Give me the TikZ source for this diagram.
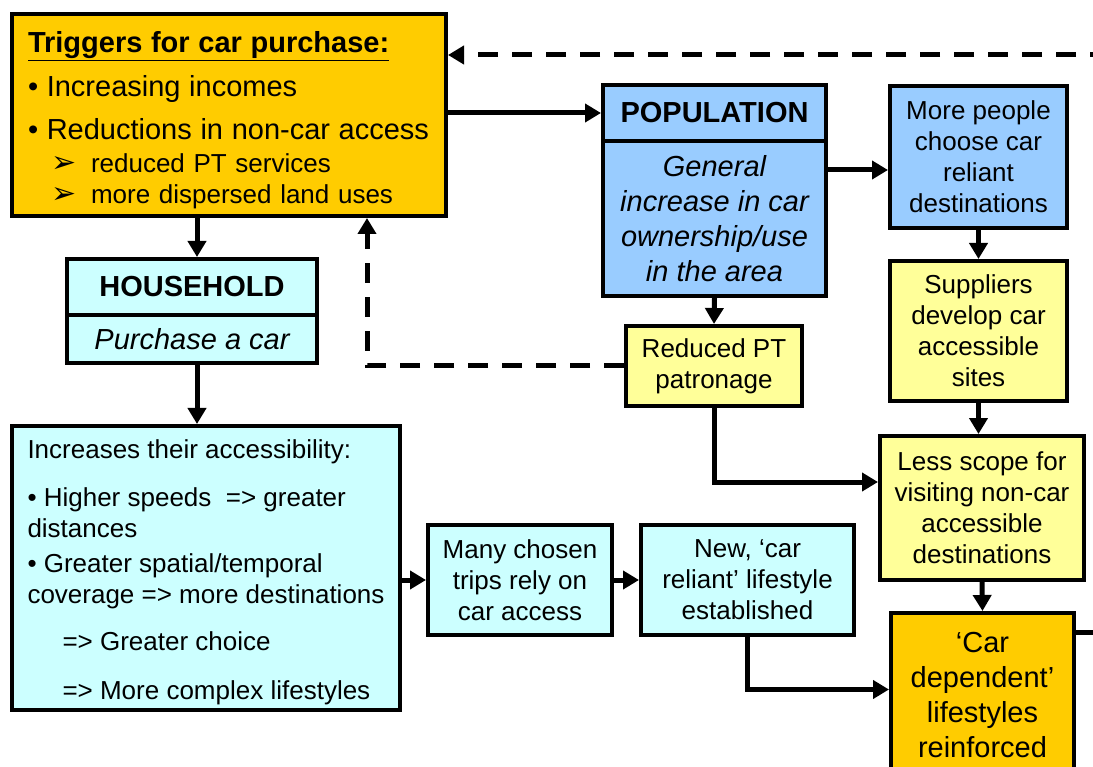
\documentclass[tikz,border=0pt]{standalone}
\usepackage{fontspec}
\setmainfont{Liberation Sans}
\newfontfamily\arrowfont{DejaVu Sans}
\usetikzlibrary{arrows.meta}
\definecolor{trigorange}{HTML}{FFCC00}
\definecolor{hhcyan}{HTML}{CCFFFF}
\definecolor{popblue}{HTML}{99CCFF}
\definecolor{effyellow}{HTML}{FFFF99}

\begin{document}
\begin{tikzpicture}[x=1pt, y=-1pt, >={Triangle[length=16pt,width=18pt]},
    box/.style={draw, line width=4pt, align=center, inner sep=0pt, font=\fontsize{26}{31}\selectfont},
    bigbf/.style={font=\fontsize{29}{35}\selectfont\bfseries},
    bigit/.style={font=\fontsize{29}{35}\selectfont\itshape},
    big/.style={font=\fontsize{29}{35}\selectfont},
    link/.style={->, line width=5pt},
    feedback/.style={->, line width=5pt, dash pattern=on 20pt off 14pt}]

    \useasboundingbox (0,0) rectangle (1093,767);

    \node[box, fill=trigorange, minimum width=434pt, minimum height=202pt, text width=402pt, align=left] at (229,115) (trig) {\rule{0pt}{31pt}{\bfseries\fontsize{29}{35}\selectfont\underline{Triggers for car purchase:}}\\[13pt]
        {\fontsize{29}{35}\selectfont • Increasing incomes}\\[12pt]
        {\fontsize{29}{35}\selectfont • Reductions in non-car access}\\[2pt]
        \hspace*{23pt}\makebox[40pt][l]{\arrowfont\fontsize{30}{30}\selectfont ➢}reduced PT services\\
        \hspace*{23pt}\makebox[40pt][l]{\arrowfont\fontsize{30}{30}\selectfont ➢}more dispersed land uses};

    \node[box, bigbf, fill=hhcyan, minimum width=250pt, minimum height=56pt] at (192,287) (hhhead) {HOUSEHOLD};
    \node[box, bigit, fill=hhcyan, minimum width=250pt, minimum height=48pt] at (192,339) (hhbody) {Purchase a car};

    \node[box, fill=hhcyan, minimum width=388pt, minimum height=284pt, align=left] at (206,568) (acc) {\rule{0pt}{27pt}Increases their accessibility:\\[17pt]
        • Higher speeds\ \ => greater\\
        distances\\[4pt]
        • Greater spatial/temporal\\
        coverage => more destinations\\[16pt]
        \hspace*{35pt}=> Greater choice\\[18pt]
        \hspace*{35pt}=> More complex lifestyles};

    \node[box, fill=hhcyan, minimum width=184pt, minimum height=110pt] at (520,580) (many) {Many chosen\\trips rely on\\car access};
    \node[box, fill=hhcyan, minimum width=213pt, minimum height=110pt] at (747.5,580) (newl) {New, ‘car\\reliant’ lifestyle\\established};

    \node[box, bigbf, fill=popblue, minimum width=223pt, minimum height=56pt] at (714.5,113) (pophead) {POPULATION};
    \node[box, bigit, fill=popblue, minimum width=223pt, minimum height=155pt] at (714.5,218.5) (popbody) {General\\increase in car\\ownership/use\\in the area};
    \node[box, fill=popblue, minimum width=177pt, minimum height=142pt] at (978.5,157) (more) {More people\\choose car\\reliant\\destinations};

    \node[box, fill=effyellow, minimum width=177pt, minimum height=140pt] at (978.5,331) (supp) {Suppliers\\develop car\\accessible\\sites};
    \node[box, fill=effyellow, minimum width=176pt, minimum height=80pt] at (714,366) (redpt) {Reduced PT\\patronage};
    \node[box, fill=effyellow, minimum width=204pt, minimum height=144pt] at (982,508) (less) {Less scope for\\visiting non-car\\accessible\\destinations};
    \node[box, big, fill=trigorange, minimum width=183pt, minimum height=165pt] at (982.5,695.5) (cardep) {‘Car\\dependent’\\lifestyles\\reinforced};

    \coordinate (loopin) at (1110,55);
    \coordinate (loopout) at (1110,632);
    \coordinate (hhport) at ([xshift=5pt]hhhead.north);
    \coordinate (fbup) at ([xshift=138pt]trig.south);
    \coordinate (moreport) at ([yshift=-13pt]more.west);
    \coordinate (lessport) at ([yshift=26pt]less.west);
    \coordinate (depport) at ([yshift=6pt]cardep.west);

    \draw[link] (trig.east |- pophead.west) -- (pophead.west);
    \draw[feedback] (loopin) -- (trig.east |- loopin);
    \draw[link] (hhport |- trig.south) -- (hhport);
    \draw[link] (hhport |- hhbody.south) -- (hhport |- acc.north);
    \draw[feedback] (redpt.west) -| (fbup);

    \draw[link] (popbody.south) -- (redpt.north);
    \draw[link] (popbody.east |- moreport) -- (moreport);
    \draw[link] (more.south) -- (supp.north);
    \draw[link] (supp.south) -- (supp.south |- less.north);
    \draw[link] (redpt.south) |- (lessport);
    \draw[link] (less.south) -- (cardep.north);

    \draw[link] (acc.east |- many.west) -- (many.west);
    \draw[link] (many.east) -- (newl.west);
    \draw[link] (newl.south) |- (depport);
    \draw[line width=5pt] (cardep.east |- loopout) -- (loopout);

\end{tikzpicture}
\end{document}
